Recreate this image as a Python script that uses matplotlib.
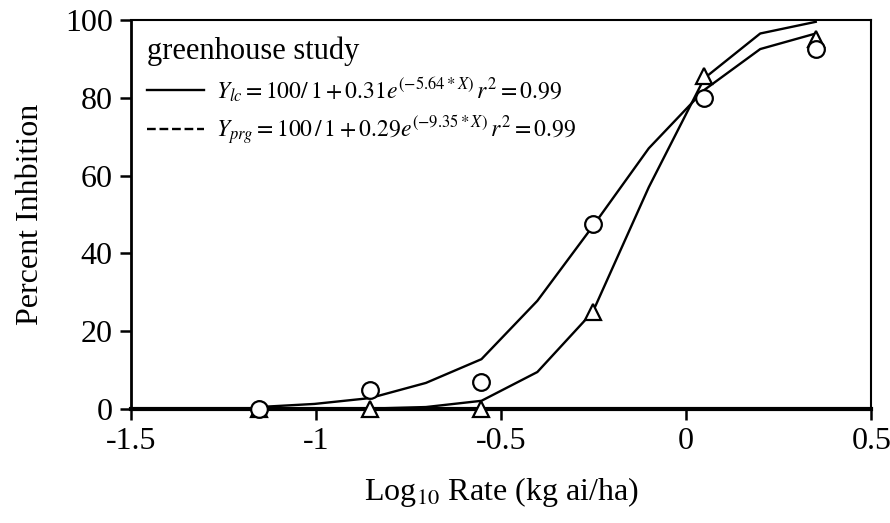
import matplotlib
matplotlib.use("Agg")
from matplotlib import pyplot
from matplotlib.lines import Line2D

# Observed data (log10 rate, percent inhibition)
log_rate = [-1.155, -0.854, -0.553, -0.252, 0.049, 0.350]
obs_lc = [0, 5, 7, 47.5, 80, 92.5]
obs_prg = [0, 0, 0, 25, 85.5, 95]

# Fitted curves evaluated at data points and midpoints
fit_x = [-1.155, -1.004, -0.854, -0.703, -0.553, -0.402, -0.252, -0.101, 0.049, 0.200, 0.350]
fit_lc = [0.5, 1.3, 2.8, 6.7, 12.8, 27.8, 47, 67, 82, 92.5, 96.5]
fit_prg = [0.0, 0.0, 0.1, 0.5, 2.1, 9.5, 25, 57, 85, 96.5, 99.5]

xticks = [-1.5, -1, -0.5, 0, 0.5]
xtick_labels = ["-1.5", "-1", "-0.5", "0", "0.5"]
yticks = [0, 20, 40, 60, 80, 100]

pyplot.rcParams["font.family"] = "Liberation Serif"
pyplot.rcParams["mathtext.fontset"] = "stix"

figure = pyplot.figure(figsize=(8.9, 5.23), dpi=100)
axes = figure.add_axes([0.147, 0.218, 0.832, 0.744])

axes.plot(fit_x, fit_lc, color="black", lw=1.7)
axes.plot(fit_x, fit_prg, color="black", lw=1.7)
axes.plot(log_rate, obs_lc, ls="none", marker="o", ms=12, mfc="white",
          mec="black", mew=1.6, clip_on=False, zorder=4)
axes.plot(log_rate, obs_prg, ls="none", marker="^", ms=12, mfc="white",
          mec="black", mew=1.6, clip_on=False, zorder=3)

axes.set_xlim(-1.5, 0.5)
axes.set_ylim(0, 100)
axes.set_xticks(xticks)
axes.set_xticklabels(xtick_labels)
axes.set_yticks(yticks)

for side in ["top", "right"]:
    axes.spines[side].set_linewidth(1.5)
axes.spines["left"].set_linewidth(2)
axes.spines["bottom"].set_linewidth(3)
axes.tick_params(direction="out", length=8, width=1.8, labelsize=23, pad=5)

axes.set_xlabel("Log$_{10}$ Rate (kg ai/ha)", fontsize=23, labelpad=14)
axes.set_ylabel("Percent Inhbition", fontsize=23, labelpad=14)

handles = [Line2D([], [], color="black", lw=1.7),
           Line2D([], [], color="black", lw=1.7, ls="--")]
labels = [r"$Y_{lc} = 100/\,1 + 0.31e^{(-5.64*X)}\,r^2 = 0.99$",
          r"$Y_{prg} = 100\,/\,1 + 0.29e^{(-9.35*X)}\,r^2 = 0.99$"]
legend = axes.legend(handles, labels, title="greenhouse study", loc="upper left",
                     frameon=False, fontsize=17, title_fontsize=22,
                     alignment="left", handlelength=2.4, handletextpad=0.5,
                     borderaxespad=0.3, labelspacing=0.4)

figure.savefig("out.png", dpi=100)
